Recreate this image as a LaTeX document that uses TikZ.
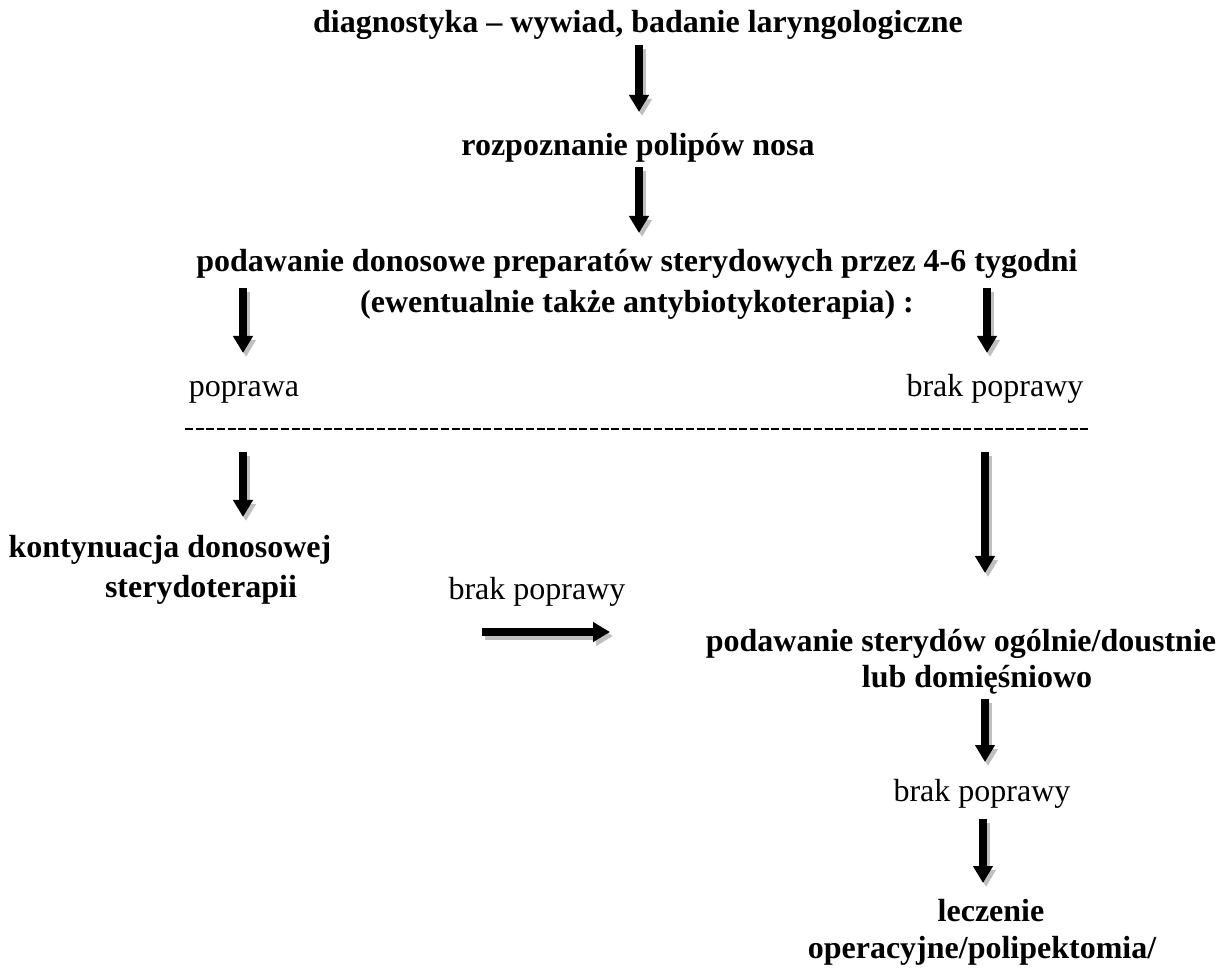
\documentclass[tikz,border=0pt]{standalone}
\usepackage{fontspec}
\setmainfont{Liberation Serif}
\usetikzlibrary{arrows.meta}
\definecolor{shadowc}{gray}{0.75}
\tikzset{
  txt/.style={anchor=base, inner sep=0pt, font=\fontsize{16}{19}\selectfont},
  btxt/.style={txt, font=\fontsize{16}{19}\selectfont\bfseries},
  bigarrow/.style={line width=4pt, -{Triangle[width=9.5pt,length=8.5pt]}},
  arrowshadow/.style={bigarrow, draw=shadowc, color=shadowc, transform canvas={shift={(1.5pt,-2pt)}}},
  divider/.style={line width=1pt, dash pattern=on 4pt off 1.33pt}
}
\newcommand\shadowedarrow[2]{%
  \draw[arrowshadow] (#1) -- (#2);
  \draw[bigarrow] (#1) -- (#2);}
\begin{document}
\begin{tikzpicture}[x=0.5pt,y=-0.5pt]
\useasboundingbox (0,0) rectangle (1228,968);
% texts
\node[btxt] (n1) at (638,33) {diagnostyka – wywiad, badanie laryngologiczne};
\node[btxt] (n2) at (638,156) {rozpoznanie polipów nosa};
\node[btxt] (n3a) at (637,272) {podawanie donosowe preparatów sterydowych przez 4-6 tygodni};
\node[btxt] (n3b) at (637,313) {(ewentualnie także antybiotykoterapia) :};
\node[txt] (n4) at (244,397) {poprawa};
\node[txt] (n5) at (995,397) {brak poprawy};
\node[btxt] (n6a) at (170,558) {kontynuacja donosowej};
\node[btxt] (n6b) at (201,597) {sterydoterapii};
\node[txt] (n7) at (537,599) {brak poprawy};
\node[btxt] (n8a) at (961,652) {podawanie sterydów ogólnie/doustnie};
\node[btxt] (n8b) at (977,688) {lub domięśniowo};
\node[txt] (n9) at (982,801) {brak poprawy};
\node[btxt] (n10a) at (991,921) {leczenie};
\node[btxt] (n10b) at (982,958) {operacyjne/polipektomia/};
% divider
\coordinate (d1) at (185,429);
\coordinate (d2) at (1088,429);
\draw[divider] (d1) -- (d2);
% arrow end points
\coordinate (a1s) at (639,45);  \coordinate (a1e) at (639,112);
\coordinate (a2s) at (639,167); \coordinate (a2e) at (639,233);
\coordinate (a3s) at (243,288); \coordinate (a3e) at (243,353);
\coordinate (a4s) at (987,288); \coordinate (a4e) at (987,353);
\coordinate (a5s) at (243,452); \coordinate (a5e) at (243,517);
\coordinate (a6s) at (985,452); \coordinate (a6e) at (985,573);
\coordinate (a7s) at (482,632); \coordinate (a7e) at (610,632);
\coordinate (a8s) at (985,699); \coordinate (a8e) at (985,762);
\coordinate (a9s) at (983,819); \coordinate (a9e) at (983,883);
\shadowedarrow{a1s}{a1e}
\shadowedarrow{a2s}{a2e}
\shadowedarrow{a3s}{a3e}
\shadowedarrow{a4s}{a4e}
\shadowedarrow{a5s}{a5e}
\shadowedarrow{a6s}{a6e}
\shadowedarrow{a7s}{a7e}
\shadowedarrow{a8s}{a8e}
\shadowedarrow{a9s}{a9e}
\end{tikzpicture}
\end{document}
